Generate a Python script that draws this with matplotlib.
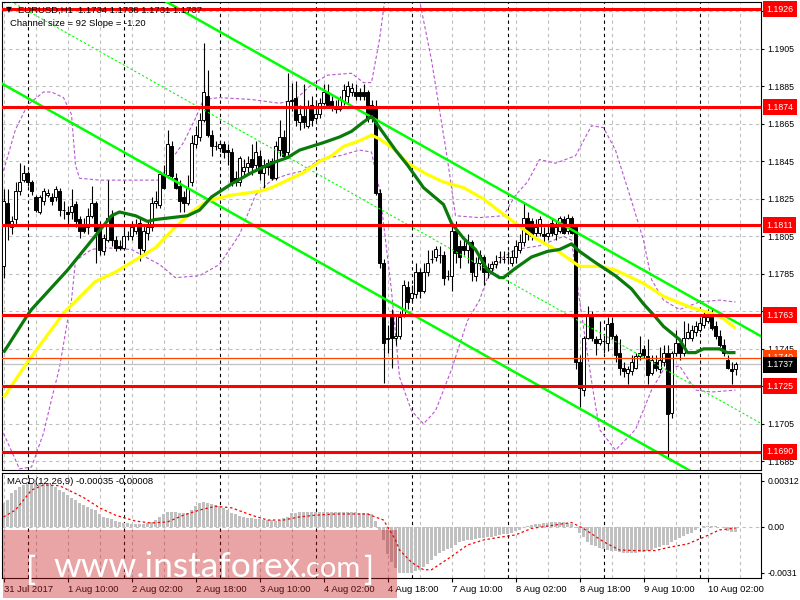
import numpy as np
import matplotlib
matplotlib.use("Agg")
import matplotlib.pyplot as plt
import matplotlib.transforms as mtrans
from matplotlib.patches import Rectangle

plt.rcParams['font.family'] = ['Liberation Sans', 'DejaVu Sans']

# ---------------- data (EURUSD H1, 31 Jul 18:00 .. 10 Aug 02:00) ----------------
opens = [
    1.1789, 1.1823, 1.1810, 1.1814, 1.1829, 1.1835, 1.1839, 1.1834, 1.1826, 1.1818,
    1.1824, 1.1827, 1.1826, 1.1826, 1.1829, 1.1819, 1.1818, 1.1818, 1.1822, 1.1814,
    1.1811, 1.1810, 1.1816, 1.1823, 1.1810, 1.1797, 1.1803, 1.1816, 1.1803, 1.1800,
    1.1799, 1.1805, 1.1805, 1.1808, 1.1812, 1.1798, 1.1807, 1.1810, 1.1823, 1.1822,
    1.1838, 1.1838, 1.1853, 1.1836, 1.1832, 1.1826, 1.1823, 1.1834, 1.1854, 1.1858,
    1.1867, 1.1880, 1.1859, 1.1853, 1.1852, 1.1854, 1.1851, 1.1850, 1.1836, 1.1834,
    1.1840, 1.1842, 1.1846, 1.1843, 1.1848, 1.1839, 1.1844, 1.1845, 1.1836, 1.1851,
    1.1858, 1.1850, 1.1878, 1.1879, 1.1866, 1.1869, 1.1864, 1.1875, 1.1868, 1.1870,
    1.1876, 1.1882, 1.1877, 1.1874, 1.1873, 1.1877, 1.1880, 1.1882, 1.1882, 1.1882,
    1.1882, 1.1882, 1.1875, 1.1874, 1.1828, 1.1791, 1.1750, 1.1763, 1.1751, 1.1752,
    1.1763, 1.1778, 1.1772, 1.1774, 1.1786, 1.1776, 1.1786, 1.1793, 1.1794, 1.1795,
    1.1795, 1.1784, 1.1784, 1.1808, 1.1800, 1.1800, 1.1798, 1.1802, 1.1784, 1.1791,
    1.1794, 1.1788, 1.1788, 1.1790, 1.1794, 1.1793, 1.1794, 1.1791, 1.1794, 1.1798,
    1.1802, 1.1815, 1.1813, 1.1807, 1.1807, 1.1806, 1.1805, 1.1812, 1.1806, 1.1808,
    1.1814, 1.1808, 1.1815, 1.1810, 1.1738, 1.1723, 1.1751, 1.1763, 1.1750, 1.1748,
    1.1749, 1.1748, 1.1759, 1.1752, 1.1743, 1.1735, 1.1732, 1.1733, 1.1735, 1.1741,
    1.1745, 1.1741, 1.1732, 1.1738, 1.1734, 1.1738, 1.1743, 1.1711, 1.1743, 1.1748,
    1.1743, 1.1751, 1.1751, 1.1754, 1.1755, 1.1758, 1.1760, 1.1763, 1.1757, 1.1752,
    1.1747, 1.1739, 1.1734, 1.1734]
highs = [
    1.1830, 1.1830, 1.1816, 1.1834, 1.1844, 1.1843, 1.1840, 1.1835, 1.1827, 1.1827,
    1.1831, 1.1830, 1.1828, 1.1832, 1.1831, 1.1824, 1.1821, 1.1830, 1.1824, 1.1816,
    1.1815, 1.1820, 1.1832, 1.1824, 1.1813, 1.1806, 1.1835, 1.1819, 1.1805, 1.1803,
    1.1810, 1.1808, 1.1813, 1.1814, 1.1815, 1.1811, 1.1813, 1.1826, 1.1829, 1.1840,
    1.1843, 1.1862, 1.1856, 1.1839, 1.1835, 1.1829, 1.1838, 1.1859, 1.1864, 1.1871,
    1.1908, 1.1894, 1.1862, 1.1856, 1.1856, 1.1856, 1.1854, 1.1852, 1.1840, 1.1848,
    1.1846, 1.1848, 1.1854, 1.1856, 1.1851, 1.1846, 1.1846, 1.1847, 1.1856, 1.1867,
    1.1862, 1.1892, 1.1887, 1.1888, 1.1875, 1.1886, 1.1878, 1.1880, 1.1878, 1.1879,
    1.1886, 1.1886, 1.1880, 1.1878, 1.1880, 1.1886, 1.1888, 1.1887, 1.1886, 1.1884,
    1.1886, 1.1883, 1.1878, 1.1878, 1.1830, 1.1793, 1.1758, 1.1766, 1.1763, 1.1765,
    1.1782, 1.1781, 1.1779, 1.1791, 1.1788, 1.1791, 1.1798, 1.1798, 1.1800, 1.1800,
    1.1797, 1.1787, 1.1811, 1.1813, 1.1803, 1.1804, 1.1806, 1.1803, 1.1794, 1.1798,
    1.1795, 1.1791, 1.1792, 1.1795, 1.1797, 1.1797, 1.1797, 1.1798, 1.1803, 1.1806,
    1.1823, 1.1818, 1.1815, 1.1814, 1.1816, 1.1810, 1.1811, 1.1815, 1.1813, 1.1816,
    1.1816, 1.1817, 1.1816, 1.1811, 1.1742, 1.1752, 1.1768, 1.1765, 1.1752, 1.1760,
    1.1752, 1.1762, 1.1762, 1.1753, 1.1750, 1.1738, 1.1736, 1.1742, 1.1743, 1.1752,
    1.1747, 1.1750, 1.1742, 1.1742, 1.1746, 1.1747, 1.1747, 1.1744, 1.1755, 1.1750,
    1.1760, 1.1759, 1.1758, 1.1760, 1.1762, 1.1765, 1.1766, 1.1766, 1.1760, 1.1755,
    1.1750, 1.1742, 1.1738, 1.1738]
lows = [
    1.1783, 1.1803, 1.1806, 1.1811, 1.1827, 1.1834, 1.1832, 1.1827, 1.1818, 1.1817,
    1.1822, 1.1826, 1.1822, 1.1824, 1.1816, 1.1814, 1.1811, 1.1814, 1.1810, 1.1804,
    1.1807, 1.1806, 1.1815, 1.1791, 1.1795, 1.1795, 1.1802, 1.1800, 1.1797, 1.1798,
    1.1798, 1.1803, 1.1803, 1.1806, 1.1792, 1.1796, 1.1803, 1.1808, 1.1820, 1.1820,
    1.1830, 1.1836, 1.1835, 1.1830, 1.1818, 1.1818, 1.1822, 1.1832, 1.1852, 1.1856,
    1.1866, 1.1858, 1.1848, 1.1851, 1.1850, 1.1847, 1.1843, 1.1832, 1.1832, 1.1832,
    1.1838, 1.1839, 1.1838, 1.1840, 1.1835, 1.1830, 1.1838, 1.1835, 1.1835, 1.1848,
    1.1847, 1.1848, 1.1872, 1.1864, 1.1862, 1.1863, 1.1863, 1.1864, 1.1867, 1.1868,
    1.1875, 1.1874, 1.1872, 1.1871, 1.1872, 1.1875, 1.1876, 1.1880, 1.1878, 1.1878,
    1.1878, 1.1866, 1.1866, 1.1827, 1.1788, 1.1727, 1.1743, 1.1735, 1.1747, 1.1750,
    1.1762, 1.1766, 1.1770, 1.1772, 1.1772, 1.1775, 1.1784, 1.1791, 1.1792, 1.1791,
    1.1779, 1.1782, 1.1776, 1.1791, 1.1788, 1.1795, 1.1791, 1.1781, 1.1781, 1.1787,
    1.1779, 1.1783, 1.1786, 1.1788, 1.1791, 1.1791, 1.1790, 1.1789, 1.1791, 1.1796,
    1.1800, 1.1803, 1.1803, 1.1805, 1.1805, 1.1802, 1.1803, 1.1805, 1.1803, 1.1807,
    1.1806, 1.1806, 1.1806, 1.1734, 1.1714, 1.1720, 1.1750, 1.1749, 1.1742, 1.1747,
    1.1743, 1.1744, 1.1750, 1.1738, 1.1731, 1.1730, 1.1726, 1.1731, 1.1734, 1.1739,
    1.1740, 1.1726, 1.1731, 1.1733, 1.1732, 1.1736, 1.1687, 1.1708, 1.1741, 1.1739,
    1.1741, 1.1750, 1.1749, 1.1752, 1.1754, 1.1756, 1.1759, 1.1755, 1.1750, 1.1746,
    1.1741, 1.1734, 1.1726, 1.1731]
closes = [
    1.1824, 1.1811, 1.1813, 1.1829, 1.1834, 1.1839, 1.1834, 1.1829, 1.1819, 1.1826,
    1.1829, 1.1828, 1.1824, 1.1830, 1.1819, 1.1819, 1.1817, 1.1821, 1.1813, 1.1808,
    1.1808, 1.1816, 1.1823, 1.1808, 1.1798, 1.1804, 1.1815, 1.1803, 1.1799, 1.1799,
    1.1805, 1.1805, 1.1810, 1.1811, 1.1799, 1.1808, 1.1810, 1.1823, 1.1824, 1.1838,
    1.1831, 1.1854, 1.1837, 1.1831, 1.1824, 1.1823, 1.1831, 1.1855, 1.1859, 1.1867,
    1.1882, 1.1859, 1.1853, 1.1853, 1.1854, 1.1850, 1.1850, 1.1834, 1.1834, 1.1847,
    1.1842, 1.1844, 1.1842, 1.1850, 1.1839, 1.1843, 1.1842, 1.1836, 1.1853, 1.1858,
    1.1848, 1.1877, 1.1877, 1.1867, 1.1870, 1.1866, 1.1874, 1.1867, 1.1870, 1.1876,
    1.1882, 1.1875, 1.1874, 1.1873, 1.1878, 1.1883, 1.1885, 1.1884, 1.1880, 1.1880,
    1.1880, 1.1868, 1.1868, 1.1828, 1.1791, 1.1748, 1.1751, 1.1751, 1.1752, 1.1762,
    1.1779, 1.1770, 1.1775, 1.1786, 1.1776, 1.1786, 1.1791, 1.1793, 1.1798, 1.1795,
    1.1783, 1.1784, 1.1808, 1.1796, 1.1794, 1.1798, 1.1802, 1.1786, 1.1791, 1.1795,
    1.1786, 1.1786, 1.1790, 1.1792, 1.1794, 1.1793, 1.1794, 1.1794, 1.1800, 1.1802,
    1.1815, 1.1806, 1.1805, 1.1810, 1.1814, 1.1805, 1.1807, 1.1807, 1.1810, 1.1815,
    1.1807, 1.1815, 1.1807, 1.1738, 1.1724, 1.1751, 1.1763, 1.1751, 1.1748, 1.1750,
    1.1749, 1.1758, 1.1752, 1.1742, 1.1735, 1.1733, 1.1734, 1.1738, 1.1741, 1.1743,
    1.1742, 1.1731, 1.1739, 1.1735, 1.1739, 1.1743, 1.1710, 1.1743, 1.1748, 1.1743,
    1.1751, 1.1754, 1.1755, 1.1757, 1.1759, 1.1762, 1.1762, 1.1756, 1.1752, 1.1747,
    1.1743, 1.1735, 1.1733, 1.1737]

# moving averages (at these bars)
ma_fast_bars = [0, 6, 7, 16, 24, 27, 29, 33, 36, 38, 42, 46, 49, 52, 57, 62, 67, 71, 74, 80,
                84, 87, 90, 92, 93, 98, 101, 105, 110, 112, 115, 118, 121, 124, 125, 128, 132,
                136, 139, 141, 142, 144, 148, 153, 157, 160, 163, 165, 169, 171, 173, 175,
                179, 181, 183]
ma_fast = [1.1743, 1.1763, 1.1766, 1.1787, 1.1808, 1.1816, 1.1818, 1.1816, 1.1813, 1.1814,
           1.1815, 1.1816, 1.1819, 1.1826, 1.1833, 1.1839, 1.1844, 1.1847, 1.1851, 1.1855,
           1.1858, 1.1861, 1.1866, 1.1869, 1.1866, 1.1851, 1.1843, 1.1831, 1.1822, 1.1812,
           1.1804, 1.1798, 1.1787, 1.1783, 1.1783, 1.1788, 1.1794, 1.1797, 1.1798, 1.1800,
           1.1801, 1.1797, 1.1791, 1.1784, 1.1777, 1.1769, 1.1762, 1.1757, 1.1750, 1.1743,
           1.1743, 1.1745, 1.1745, 1.1743, 1.1743]
ma_slow_bars = [0, 6, 15, 23, 28, 35, 38, 43, 47, 51, 57, 64, 67, 70, 75, 79, 82, 85, 89, 92,
                94, 98, 101, 106, 110, 115, 120, 123, 128, 133, 138, 142, 144, 149, 153, 160,
                165, 172, 177, 180, 183]
ma_slow = [1.1719, 1.1738, 1.1764, 1.1781, 1.1786, 1.1795, 1.1799, 1.1810, 1.1818, 1.1824,
           1.1827, 1.1829, 1.1831, 1.1834, 1.1839, 1.1845, 1.1848, 1.1853, 1.1856, 1.1859,
           1.1857, 1.1851, 1.1844, 1.1838, 1.1834, 1.1831, 1.1825, 1.1820, 1.1812, 1.1804,
           1.1798, 1.1792, 1.1789, 1.1789, 1.1787, 1.1780, 1.1773, 1.1767, 1.1764, 1.1761,
           1.1756]

# Bollinger bands
bb_up_bars = [0, 3, 6, 10, 12, 15, 17, 18, 19, 24, 32, 39, 42, 45, 48, 50, 54, 62, 69, 73,
              77, 81, 87, 90, 92, 94, 96, 100, 104, 107, 111, 113, 119, 125, 128, 131, 134,
              138, 143, 147, 150, 153, 157, 160, 162, 165, 169, 174, 179, 183]
bb_up = [1.1840, 1.1862, 1.1875, 1.1882, 1.1882, 1.1879, 1.1870, 1.1843, 1.1836, 1.1835,
         1.1835, 1.1835, 1.1846, 1.1855, 1.1868, 1.1878, 1.1879, 1.1878, 1.1876, 1.1878,
         1.1886, 1.1891, 1.1892, 1.1887, 1.1887, 1.1910, 1.1942, 1.1953, 1.1931, 1.1899,
         1.1846, 1.1816, 1.1815, 1.1816, 1.1827, 1.1834, 1.1846, 1.1844, 1.1848, 1.1864,
         1.1863, 1.1851, 1.1824, 1.1803, 1.1782, 1.1771, 1.1766, 1.1770, 1.1771, 1.1770]
bb_dn_bars = [0, 4, 7, 10, 12, 14, 16, 17, 18, 22, 25, 32, 39, 43, 49, 54, 59, 63, 67, 71,
              75, 79, 84, 89, 92, 94, 97, 99, 102, 105, 108, 112, 116, 119, 121, 125, 128,
              134, 140, 142, 144, 147, 149, 153, 158, 162, 165, 169, 173, 177, 183]
bb_dn = [1.1700, 1.1681, 1.1682, 1.1700, 1.1718, 1.1735, 1.1760, 1.1771, 1.1792, 1.1798,
         1.1799, 1.1798, 1.1790, 1.1783, 1.1784, 1.1790, 1.1806, 1.1827, 1.1835, 1.1838,
         1.1840, 1.1846, 1.1848, 1.1851, 1.1850, 1.1830, 1.1776, 1.1730, 1.1712, 1.1705,
         1.1712, 1.1734, 1.1760, 1.1771, 1.1783, 1.1794, 1.1798, 1.1800, 1.1805, 1.1803,
         1.1771, 1.1728, 1.1702, 1.1691, 1.1702, 1.1723, 1.1734, 1.1736, 1.1723, 1.1722,
         1.1723]

# MACD(12,26,9) main (histogram) per bar, signal read at these bars
macd_main = [
    0.00163, 0.00183, 0.00231, 0.00251, 0.00271, 0.00285, 0.00292, 0.00295, 0.00295, 0.00297,
    0.00298, 0.00295, 0.00285, 0.00270, 0.00250, 0.00235, 0.00217, 0.00197, 0.00180, 0.00163,
    0.00150, 0.00136, 0.00125, 0.00115, 0.00090, 0.00068, 0.00060, 0.00054, 0.00042, 0.00034,
    0.00030, 0.00027, 0.00022, 0.00020, 0.00018, 0.00020, 0.00026, 0.00034, 0.00050, 0.00068,
    0.00085, 0.00100, 0.00100, 0.00100, 0.00098, 0.00095, 0.00095, 0.00115, 0.00140, 0.00163,
    0.00170, 0.00165, 0.00158, 0.00150, 0.00140, 0.00128, 0.00115, 0.00095, 0.00085, 0.00075,
    0.00068, 0.00064, 0.00060, 0.00056, 0.00052, 0.00050, 0.00047, 0.00045, 0.00043, 0.00050,
    0.00058, 0.00068, 0.00095, 0.00098, 0.00100, 0.00100, 0.00100, 0.00102, 0.00102, 0.00100,
    0.00102, 0.00102, 0.00100, 0.00100, 0.00100, 0.00100, 0.00102, 0.00100, 0.00100, 0.00098,
    0.00097, 0.00095, 0.00085, 0.00040, -0.00020, -0.00088, -0.00180, -0.00240, -0.00280, -0.00310,
    -0.00310, -0.00310, -0.00310, -0.00300, -0.00290, -0.00270, -0.00250, -0.00224, -0.00200, -0.00176,
    -0.00160, -0.00150, -0.00142, -0.00120, -0.00100, -0.00095, -0.00090, -0.00088, -0.00082, -0.00078,
    -0.00075, -0.00070, -0.00065, -0.00060, -0.00054, -0.00050, -0.00045, -0.00041, -0.00030, -0.00020,
    0.00000, 0.00010, 0.00015, 0.00020, 0.00023, 0.00026, 0.00030, 0.00032, 0.00034, 0.00034,
    0.00032, 0.00030, 0.00020, -0.00010, -0.00040, -0.00070, -0.00100, -0.00120, -0.00130, -0.00142,
    -0.00150, -0.00156, -0.00160, -0.00165, -0.00170, -0.00175, -0.00176, -0.00176, -0.00176, -0.00172,
    -0.00170, -0.00163, -0.00155, -0.00145, -0.00136, -0.00125, -0.00120, -0.00100, -0.00088, -0.00075,
    -0.00060, -0.00050, -0.00040, -0.00020, 0.00000, 0.00010, 0.00010, 0.00010, 0.00005, 0.00000,
    -0.00010, -0.00025, -0.00034, -0.00035]
signal_bars = [0, 3, 7, 10, 14, 20, 24, 28, 33, 37, 41, 45, 49, 53, 57, 62, 66, 70, 74, 78,
               83, 91, 95, 98, 99, 102, 105, 107, 112, 116, 120, 124, 128, 132, 137, 142,
               145, 150, 154, 158, 163, 166, 171, 175, 179, 183]
signal = [0.00068, 0.00115, 0.00250, 0.00285, 0.00280, 0.00200, 0.00130, 0.00080, 0.00040,
          0.00027, 0.00034, 0.00080, 0.00115, 0.00140, 0.00130, 0.00080, 0.00047, 0.00047,
          0.00068, 0.00080, 0.00088, 0.00088, 0.00047, -0.00088, -0.00156, -0.00240, -0.00290,
          -0.00290, -0.00200, -0.00122, -0.00088, -0.00070, -0.00054, -0.00010, 0.00010,
          0.00030, -0.00010, -0.00100, -0.00156, -0.00160, -0.00160, -0.00140, -0.00115,
          -0.00070, -0.00020, -0.00008]

levels = [1.1926, 1.1874, 1.1811, 1.1763, 1.1725, 1.1690]
ask_price = 1.1740
bid_price = 1.1737
channel_top0 = 1.1979      # upper channel line at the first bar
channel_slope = -0.00012   # per bar
channel_size = 0.0093

label_bars = [0, 16, 32, 48, 64, 80, 96, 112, 128, 144, 160, 176]
time_labels = ['31 Jul 2017', '1 Aug 10:00', '2 Aug 02:00', '2 Aug 18:00', '3 Aug 10:00',
               '4 Aug 02:00', '4 Aug 18:00', '7 Aug 10:00', '8 Aug 02:00', '8 Aug 18:00',
               '9 Aug 10:00', '10 Aug 02:00']
day_breaks = [6, 30, 54, 78, 102, 126, 150, 174]

title = 'EURUSD,H1  1.1734 1.1738 1.1731 1.1737'
subtitle = 'Channel size = 92 Slope = -1.20'
macd_title = 'MACD(12,26,9) -0.00035 -0.00008'

# ---------------- figure ----------------
W, H = 800, 600
fig = plt.figure(figsize=(8, 6), dpi=100, facecolor='white')

def px_box(x0, y0, x1, y1):
    return [x0 / W, 1 - y1 / H, (x1 - x0) / W, (y1 - y0) / H]

ax = fig.add_axes(px_box(2, 2, 761, 470))
ax2 = fig.add_axes(px_box(2, 473, 761, 578))
xlim = (-0.375, 189.375)
fs = 6.8
fs_axis = 6.3
grid_kw = dict(color='#c0c0c0', lw=0.8, ls=(0, (3, 3)), zorder=0.5)
sep_kw = dict(color='black', lw=0.8, ls=(0, (3, 3)), zorder=0.6)

n = len(closes)
idx = np.arange(n)
o = np.array(opens)
c = np.array(closes)
hi = np.array(highs)
lo = np.array(lows)

for a in (ax, ax2):
    a.set_xlim(*xlim)
    for g in range(0, 190, 8):
        a.axvline(g, **grid_kw)
    for d in day_breaks:
        a.axvline(d, **sep_kw)
    for s in a.spines.values():
        s.set_linewidth(0.8)

# main panel
ax.set_ylim(1.16804, 1.19300)
yt = np.round(np.arange(1.1685, 1.1930, 0.002), 4)
ax.set_yticks(yt)
# tick labels that sit under a level box are not shown
hidden = levels + [ask_price, bid_price]
ax.set_yticklabels(['' if min(abs(v - h) for h in hidden) < 0.0004 else f'{v:.4f}'
                    for v in yt])
for v in yt:
    ax.axhline(v, **grid_kw)
ax.yaxis.tick_right()
ax.tick_params(axis='y', length=2.5, width=0.8, pad=2, labelsize=fs_axis)
ax.tick_params(axis='x', bottom=False, labelbottom=False)

# bollinger bands
ax.plot(bb_up_bars, bb_up, color='#ba55d3', lw=0.8, ls=(0, (3, 2)), zorder=1)
ax.plot(bb_dn_bars, bb_dn, color='#ba55d3', lw=0.8, ls=(0, (3, 2)), zorder=1)

# candles
ax.vlines(idx, lo, hi, color='black', lw=0.8, zorder=3)
up = c >= o
ax.bar(idx[up], (c - o)[up], bottom=o[up], width=0.7, facecolor='white',
       edgecolor='black', lw=0.7, zorder=4)
ax.bar(idx[~up], (o - c)[~up], bottom=c[~up], width=0.7, facecolor='black',
       edgecolor='black', lw=0.7, zorder=4)

# regression channel
xs = np.array(xlim)
top = channel_top0 + channel_slope * xs
ax.plot(xs, top, color='#00ff00', lw=1.8, zorder=5)
ax.plot(xs, top - channel_size, color='#00ff00', lw=1.8, zorder=5)
ax.plot(xs, top - channel_size / 2, color='#00ff00', lw=0.8, ls=(0, (2, 2)), zorder=5)

# moving averages
ax.plot(ma_slow_bars, ma_slow, color='#ffff00', lw=2.3, zorder=6, solid_capstyle='butt')
ax.plot(ma_fast_bars, ma_fast, color='#0a7a0a', lw=2.3, zorder=6, solid_capstyle='butt')

# levels
blend = mtrans.blended_transform_factory(ax.transAxes, ax.transData)
lab_x = (766 - 2) / 759
box_kw = dict(boxstyle='square,pad=0.4', ec='none')
for lv in levels:
    ax.axhline(lv, color='#ff0000', lw=2.2, zorder=7)
    ax.text(lab_x, lv, f'{lv:.4f}', transform=blend, color='white', fontsize=fs_axis,
            va='center', ha='left', clip_on=False, zorder=20,
            bbox=dict(fc='#ff0000', **box_kw))
ax.axhline(ask_price, color='#ff4500', lw=0.9, zorder=7)
ax.axhline(bid_price, color='#c0c0c0', lw=0.9, zorder=2)
ax.text(lab_x, ask_price + 0.00002, f'{ask_price:.4f}', transform=blend, color='white',
        fontsize=fs_axis, va='center', ha='left', clip_on=False, zorder=20,
        bbox=dict(fc='#ff4500', **box_kw))
ax.text(lab_x, bid_price - 0.00004, f'{bid_price:.4f}', transform=blend, color='white',
        fontsize=fs_axis, va='center', ha='left', clip_on=False, zorder=21,
        bbox=dict(fc='black', **box_kw))

# MACD panel
ax2.set_ylim(-0.00346, 0.00366)
ax2.bar(idx, macd_main, width=0.55, color='#c0c0c0', zorder=2)
ax2.plot(signal_bars, signal, color='#ff0000', lw=0.9, ls=(0, (2, 2)), zorder=3)
ax2.axhline(0, **grid_kw)
ax2.yaxis.tick_right()
ax2.set_yticks([0.00312, 0.0, -0.0031])
ax2.set_yticklabels(['0.00312', '0.00', '-0.0031'])
ax2.tick_params(axis='y', length=2.5, width=0.8, pad=2, labelsize=fs_axis)
ax2.set_xticks(label_bars)
ax2.set_xticklabels(time_labels, ha='left')
ax2.tick_params(axis='x', length=3, width=0.8, pad=2, labelsize=fs)

# header texts
fig.text(6 / W, 1 - 10 / H, '\u25bc', fontsize=5.5, va='center', ha='left',
         family=['DejaVu Sans'])
fig.text(18 / W, 1 - 10 / H, title, fontsize=fs, va='center', ha='left')
fig.text(10 / W, 1 - 23 / H, subtitle, fontsize=fs, va='center', ha='left')
fig.text(7 / W, 1 - 482 / H, macd_title, fontsize=fs, va='center', ha='left')

# watermark
fig.add_artist(Rectangle((3 / W, 1 - 598 / H), 394 / W, 68 / H,
                         transform=fig.transFigure, facecolor='#c81e1e',
                         alpha=0.4, edgecolor='none', zorder=30))
wm = dict(color='white', va='baseline', zorder=31, family=['Lato', 'DejaVu Sans'])
fig.text(26 / W, 1 - 580 / H, '[', fontsize=24, ha='left', **wm)
fig.text(53 / W, 1 - 577 / H, 'www.instaforex', fontsize=25.5, ha='left', **wm)
fig.text(361 / W, 1 - 577 / H, '.com', fontsize=21, ha='right', **wm)
fig.text(374 / W, 1 - 580 / H, ']', fontsize=24, ha='right', **wm)

fig.savefig('out.png', dpi=100, facecolor='white')
